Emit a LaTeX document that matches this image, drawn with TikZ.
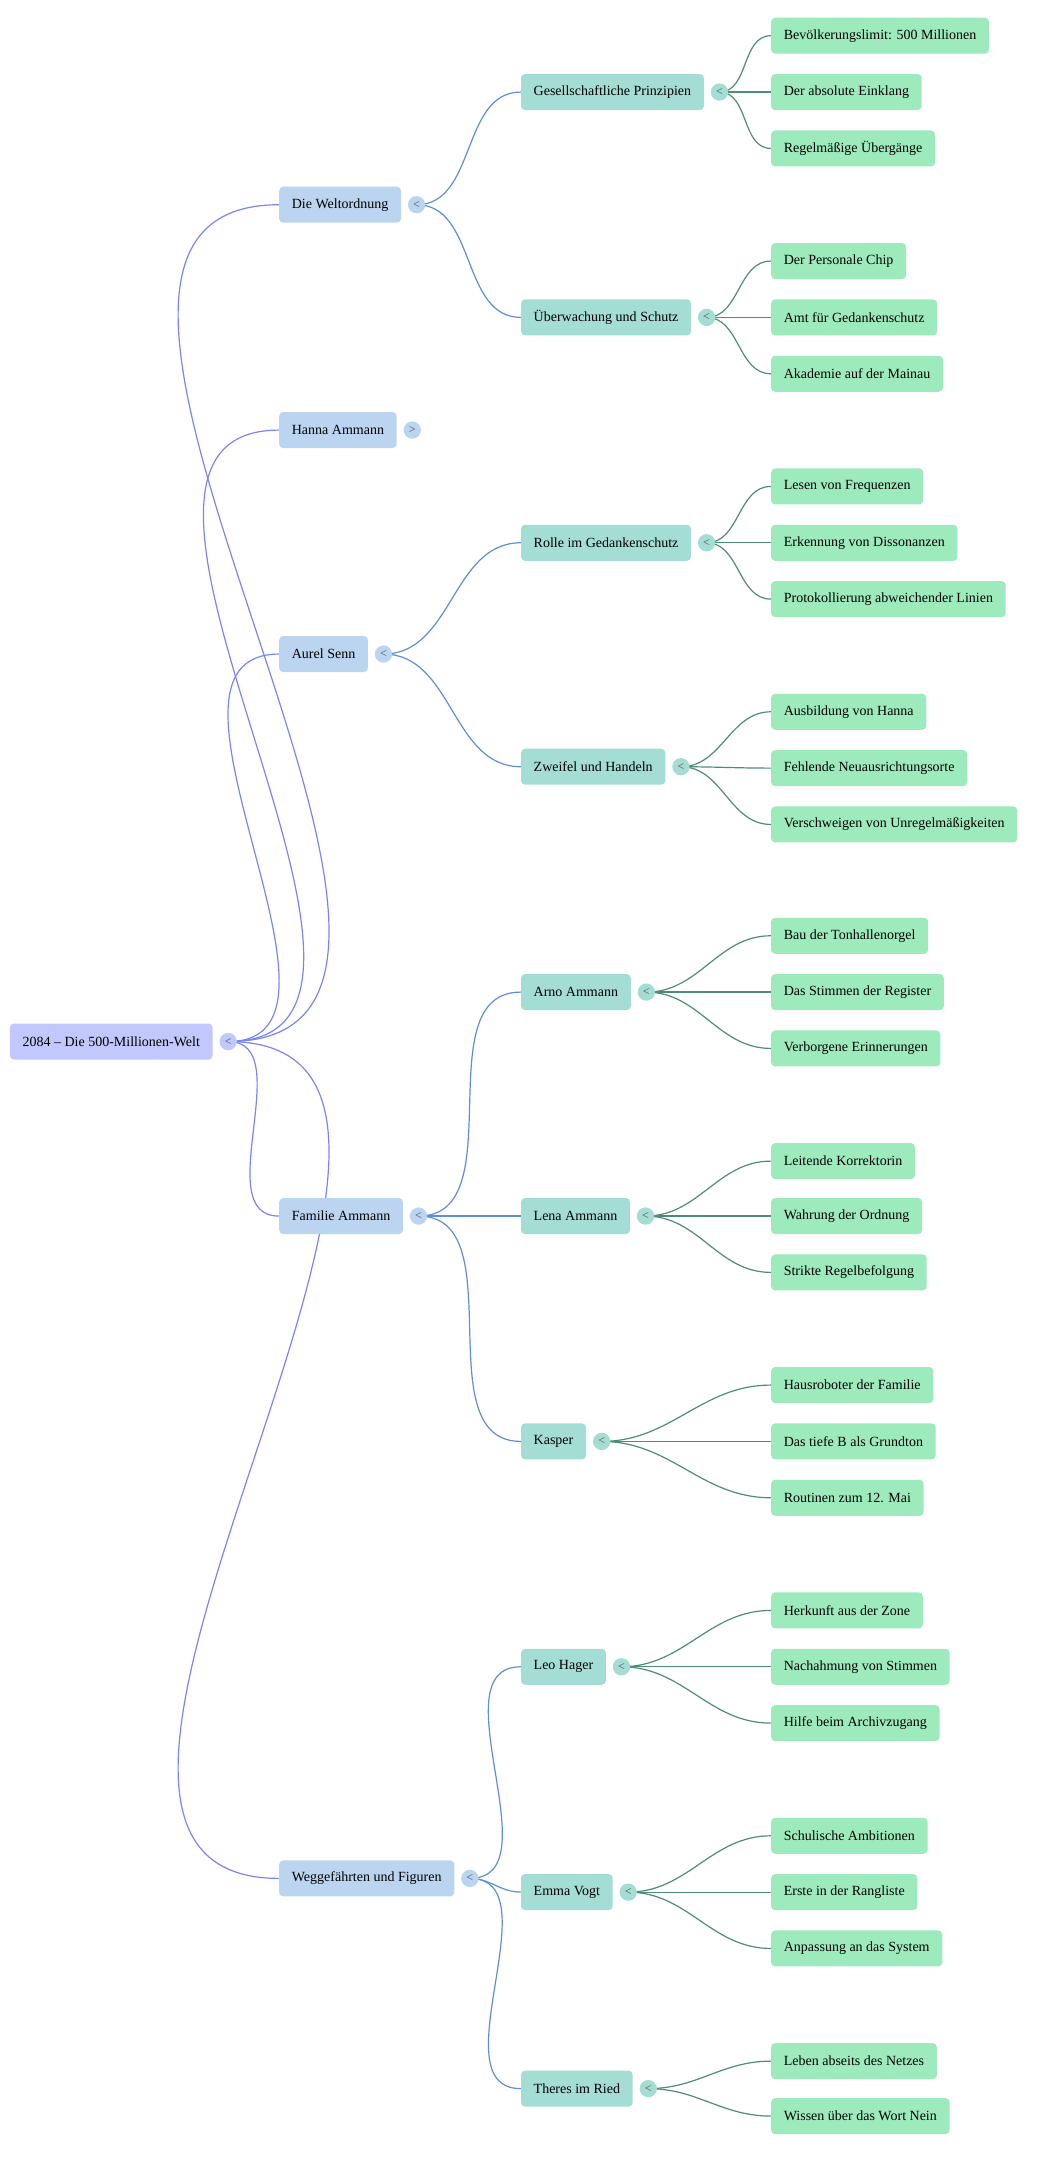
\documentclass[tikz,border=0pt]{standalone}
\usepackage{fontspec}
\setmainfont{Liberation Serif}
\usetikzlibrary{backgrounds}
\definecolor{rootfill}{HTML}{C2C8FB}
\definecolor{onefill}{HTML}{BBD5F0}
\definecolor{twofill}{HTML}{A3DDD3}
\definecolor{leaffill}{HTML}{9DEBBD}
\definecolor{rootline}{HTML}{7A85F5}
\definecolor{oneline}{HTML}{5C8FD6}
\definecolor{twoline}{HTML}{4E8C78}
\tikzset{
  box/.style = {anchor=west, rounded corners=3pt, minimum height=27pt, inner xsep=9.5pt,
    font=\fontsize{10.5}{12}\selectfont},
  root/.style = {box, fill=rootfill},
  one/.style = {box, fill=onefill},
  two/.style = {box, fill=twofill},
  leaf/.style = {box, fill=leaffill},
  toggle/.style = {circle, inner sep=0pt, minimum size=13pt, text=black!70,
    font=\fontsize{9}{9}\selectfont},
  link/.style = {line width=0.9pt, out=0, in=180}
}
\begin{document}
\begin{tikzpicture}[x=1.0305pt, y=-1.0305pt]
    \useasboundingbox (0,0) rectangle (770,1575.6);

    \node (root) [root] at (7,758) {2084 – Die 500-Millionen-Welt};

    \node (welt) [one] at (203,149) {Die Weltordnung};
    \node (hanna) [one] at (203,313) {Hanna Ammann};
    \node (aurel) [one] at (203,476) {Aurel Senn};
    \node (familie) [one] at (203,885) {Familie Ammann};
    \node (wegg) [one] at (203,1367) {Weggefährten und Figuren};

    \node (prinz) [two] at (379,67) {Gesellschaftliche Prinzipien};
    \node (ueber) [two] at (379,231) {Überwachung und Schutz};
    \node (rolle) [two] at (379,395) {Rolle im Gedankenschutz};
    \node (zweifel) [two] at (379,558) {Zweifel und Handeln};
    \node (arno) [two] at (379,722) {Arno Ammann};
    \node (lena) [two] at (379,885) {Lena Ammann};
    \node (kasper) [two] at (379,1049) {Kasper};
    \node (leo) [two] at (379,1213) {Leo Hager};
    \node (emma) [two] at (379,1377) {Emma Vogt};
    \node (theres) [two] at (379,1520) {Theres im Ried};

    \node (prinz1) [leaf] at (561,26) {Bevölkerungslimit: 500 Millionen};
    \node (prinz2) [leaf] at (561,67) {Der absolute Einklang};
    \node (prinz3) [leaf] at (561,108) {Regelmäßige Übergänge};
    \node (ueber1) [leaf] at (561,190) {Der Personale Chip};
    \node (ueber2) [leaf] at (561,231) {Amt für Gedankenschutz};
    \node (ueber3) [leaf] at (561,272) {Akademie auf der Mainau};
    \node (rolle1) [leaf] at (561,354) {Lesen von Frequenzen};
    \node (rolle2) [leaf] at (561,395) {Erkennung von Dissonanzen};
    \node (rolle3) [leaf] at (561,436) {Protokollierung abweichender Linien};
    \node (zweifel1) [leaf] at (561,518) {Ausbildung von Hanna};
    \node (zweifel2) [leaf] at (561,559) {Fehlende Neuausrichtungsorte};
    \node (zweifel3) [leaf] at (561,600) {Verschweigen von Unregelmäßigkeiten};
    \node (arno1) [leaf] at (561,681) {Bau der Tonhallenorgel};
    \node (arno2) [leaf] at (561,722) {Das Stimmen der Register};
    \node (arno3) [leaf] at (561,763) {Verborgene Erinnerungen};
    \node (lena1) [leaf] at (561,845) {Leitende Korrektorin};
    \node (lena2) [leaf] at (561,885) {Wahrung der Ordnung};
    \node (lena3) [leaf] at (561,926) {Strikte Regelbefolgung};
    \node (kasper1) [leaf] at (561,1008) {Hausroboter der Familie};
    \node (kasper2) [leaf] at (561,1049) {Das tiefe B als Grundton};
    \node (kasper3) [leaf] at (561,1090) {Routinen zum 12. Mai};
    \node (leo1) [leaf] at (561,1172) {Herkunft aus der Zone};
    \node (leo2) [leaf] at (561,1213) {Nachahmung von Stimmen};
    \node (leo3) [leaf] at (561,1254) {Hilfe beim Archivzugang};
    \node (emma1) [leaf] at (561,1336) {Schulische Ambitionen};
    \node (emma2) [leaf] at (561,1377) {Erste in der Rangliste};
    \node (emma3) [leaf] at (561,1418) {Anpassung an das System};
    \node (theres1) [leaf] at (561,1500) {Leben abseits des Netzes};
    \node (theres2) [leaf] at (561,1540) {Wissen über das Wort Nein};

    % toggles
    \node (troot) [toggle, fill=rootfill] at ([xshift=11.5pt]root.east) {<};
    \foreach \n/\s in {welt/<, hanna/>, aurel/<, familie/<, wegg/<}
        \node (t\n) [toggle, fill=onefill] at ([xshift=11.5pt]\n.east) {\s};
    \foreach \n in {prinz, ueber, rolle, zweifel, arno, lena, kasper, leo, emma, theres}
        \node (t\n) [toggle, fill=twofill] at ([xshift=11.5pt]\n.east) {<};

    \begin{scope}[on background layer]
        \foreach \n in {welt, hanna, aurel, familie, wegg}
            \draw[link, rootline] (troot.center) to (\n.west);
        \foreach \a/\b in {welt/prinz, welt/ueber, aurel/rolle, aurel/zweifel,
            familie/arno, familie/lena, familie/kasper, wegg/leo, wegg/emma, wegg/theres}
            \draw[link, oneline] (t\a.center) to (\b.west);
        \foreach \a in {prinz, ueber, rolle, zweifel, arno, lena, kasper, leo, emma}
            \foreach \i in {1,2,3}
                \draw[link, twoline] (t\a.center) to (\a\i.west);
        \foreach \i in {1,2}
            \draw[link, twoline] (ttheres.center) to (theres\i.west);
    \end{scope}
\end{tikzpicture}
\end{document}
